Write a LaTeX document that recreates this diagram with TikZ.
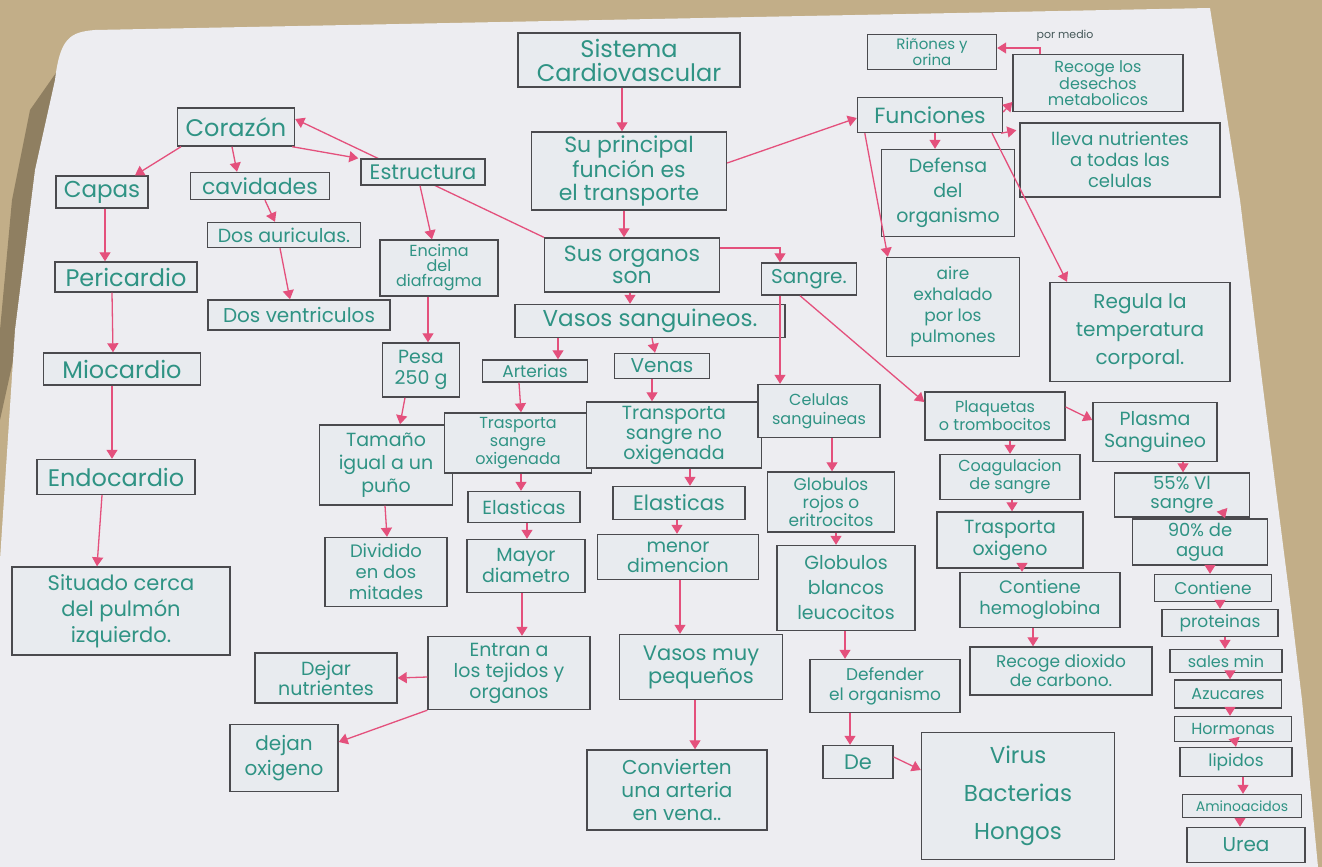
\documentclass[tikz,border=0pt]{standalone}
\usepackage{fontspec}
\setmainfont{Poppins}
\usetikzlibrary{arrows.meta}
\definecolor{sand}{HTML}{C2AE88}
\definecolor{sanddark}{HTML}{6E6048}
\definecolor{paper}{HTML}{EDEDF1}
\definecolor{boxfill}{HTML}{E8EBEF}
\definecolor{boxline}{HTML}{4A4A4E}
\definecolor{ink}{HTML}{2F9384}
\definecolor{arrowc}{HTML}{E4507C}
\newcommand\fsz[2]{\fontsize{#1}{#2}\selectfont}
\pgfdeclarelayer{bgpaper}
\pgfdeclarelayer{under}
\pgfsetlayers{bgpaper,under,main}
\tikzset{
  cbox/.style={draw=boxline, line width=1.4pt, fill=boxfill, text=ink, align=center, inner sep=1.5pt},
  link/.style={draw=arrowc, line width=1.3pt, -{Triangle[width=11pt,length=9pt]}},
}
\begin{document}
\begin{tikzpicture}[x=1pt,y=-1pt]
\useasboundingbox (0,0) rectangle (1322,867);
\begin{pgfonlayer}{bgpaper}
  \fill[sand] (0,0) rectangle (1322,867);
  \fill[sanddark,opacity=0.6] (58,70) -- (40,150) -- (22,320) -- (0,420) -- (0,330) -- (12,200) -- (30,110) -- cycle;
  \fill[paper] (55,80) .. controls (60,38) and (70,32) .. (95,30) -- (1210,8) -- (1240,200) -- (1262,380) -- (1290,600) -- (1302,700) -- (1318,867) -- (0,867) -- (0,560) -- (15,330) -- (35,170) -- cycle;
\end{pgfonlayer}

% ---------- nodes ----------
\node[cbox, minimum width=222, minimum height=54, font=\fsz{24}{24}] (sc) at (629,60) {Sistema\\Cardiovascular};
\node[cbox, minimum width=195, minimum height=78, font=\fsz{22}{23}] (sup) at (629,171) {Su principal\\función es\\el transporte};
\node[cbox, minimum width=175, minimum height=54, font=\fsz{22}{22}] (org) at (632,265) {Sus organos\\son};
\node[cbox, minimum width=270, minimum height=33, inner sep=1pt, font=\fsz{23}{23}] (vas) at (650,321) {Vasos sanguineos.};

\node[cbox, minimum width=117, minimum height=38, font=\fsz{24}{24}] (cor) at (236,127) {Corazón};
\node[cbox, minimum width=92, minimum height=32, font=\fsz{23}{23}] (cap) at (102,192) {Capas};
\node[cbox, minimum width=139, minimum height=27, inner sep=1pt, font=\fsz{22}{22}] (cav) at (260,186) {cavidades};
\node[cbox, minimum width=124, minimum height=26, inner sep=1pt, font=\fsz{21}{21}] (est) at (423,172) {Estructura};
\node[cbox, minimum width=153, minimum height=25, inner sep=1pt, font=\fsz{19}{19}] (aur) at (284,235) {Dos auriculas.};
\node[cbox, minimum width=182, minimum height=30, font=\fsz{20}{20}] (ven) at (299,315) {Dos ventriculos};
\node[cbox, minimum width=118, minimum height=56, font=\fsz{16}{15}] (enc) at (439,268) {Encima\\del\\diafragma};
\node[cbox, minimum width=142, minimum height=30, inner sep=1pt, font=\fsz{24}{24}] (per) at (126,277) {Pericardio};
\node[cbox, minimum width=157, minimum height=32, inner sep=1pt, font=\fsz{24}{24}] (mio) at (122,369) {Miocardio};
\node[cbox, minimum width=158, minimum height=35, inner sep=1pt, font=\fsz{24}{24}] (endo) at (116,477) {Endocardio};
\node[cbox, minimum width=218, minimum height=88, font=\fsz{21}{26}] (sit) at (121,611) {Situado cerca\\del pulmón\\izquierdo.};
\node[cbox, minimum width=77, minimum height=54, font=\fsz{19}{21}] (pesa) at (421,370) {Pesa\\250 g};
\node[cbox, minimum width=133, minimum height=80, font=\fsz{19}{23}] (tam) at (386,465) {Tamaño\\igual a un\\puño};
\node[cbox, minimum width=122, minimum height=69, font=\fsz{18}{21}] (div) at (386,572) {Dividido\\en dos\\mitades};

\node[cbox, minimum width=105, minimum height=22, inner sep=1pt, font=\fsz{17}{17}] (art) at (535,371) {Arterias};
\node[cbox, minimum width=95, minimum height=25, inner sep=1pt, font=\fsz{20}{20}] (vena) at (662,366) {Venas};
\node[cbox, minimum width=147, minimum height=60, font=\fsz{16}{18}] (tra) at (518,443) {Trasporta\\sangre\\oxigenada};
\node[cbox, minimum width=175, minimum height=66, font=\fsz{19}{20}] (tno) at (674,435) {Transporta\\sangre no\\oxigenada};
\node[cbox, minimum width=112, minimum height=31, font=\fsz{19}{19}] (ela1) at (524,507) {Elasticas};
\node[cbox, minimum width=132, minimum height=33, font=\fsz{21}{21}] (ela2) at (679,503) {Elasticas};
\node[cbox, minimum width=118, minimum height=53, font=\fsz{19}{21}] (may) at (526,566) {Mayor\\diametro};
\node[cbox, minimum width=161, minimum height=45, font=\fsz{19}{20}] (men) at (678,557) {menor\\dimencion};
\node[cbox, minimum width=162, minimum height=73, font=\fsz{19}{21}] (ent) at (509,673) {Entran a\\los tejidos y\\organos};
\node[cbox, minimum width=163, minimum height=65, font=\fsz{21}{23}] (vmp) at (701,667) {Vasos muy\\pequeños};
\node[cbox, minimum width=180, minimum height=80, font=\fsz{20}{23}] (conv) at (677,790) {Convierten\\una arteria\\en vena..};
\node[cbox, minimum width=142, minimum height=50, font=\fsz{19}{20}] (dnu) at (326,678) {Dejar\\nutrientes};
\node[cbox, minimum width=108, minimum height=67, font=\fsz{20}{25}] (dox) at (284,758) {dejan\\oxigeno};

\node[cbox, minimum width=95, minimum height=32, font=\fsz{20}{20}] (san) at (809,279) {Sangre.};
\node[cbox, minimum width=122, minimum height=53, font=\fsz{16}{19}] (cel) at (819,411) {Celulas\\sanguineas};
\node[cbox, minimum width=127, minimum height=60, font=\fsz{17}{18}] (gro) at (831,502) {Globulos\\rojos o\\eritrocitos};
\node[cbox, minimum width=138, minimum height=85, font=\fsz{19}{25}] (gbl) at (846,588) {Globulos\\blancos\\leucocitos};
\node[cbox, minimum width=150, minimum height=53, font=\fsz{17}{20}] (def) at (885,686) {Defender\\el organismo};
\node[cbox, minimum width=70, minimum height=33, font=\fsz{21}{21}] (de) at (858,762) {De};
\node[cbox, minimum width=193, minimum height=127, font=\fsz{23}{38}] (vir) at (1018,796) {Virus\\Bacterias\\Hongos};

\node[cbox, minimum width=140, minimum height=48, font=\fsz{16}{18}] (pla) at (995,416) {Plaquetas\\o trombocitos};
\node[cbox, minimum width=124, minimum height=59, font=\fsz{19}{22}] (plas) at (1155,432) {Plasma\\Sanguineo};
\node[cbox, minimum width=140, minimum height=45, font=\fsz{16}{18}] (coa) at (1010,477) {Coagulacion\\de sangre};
\node[cbox, minimum width=135, minimum height=44, font=\fsz{18}{19}] (p55) at (1182,495) {55\% Vl\\sangre};
\node[cbox, minimum width=146, minimum height=56, font=\fsz{19}{22}] (tox) at (1010,540) {Trasporta\\oxigeno};
\node[cbox, minimum width=135, minimum height=46, font=\fsz{18}{20}] (p90) at (1200,542) {90\% de\\agua};
\node[cbox, minimum width=160, minimum height=55, font=\fsz{18}{21}] (hem) at (1040,600) {Contiene\\hemoglobina};
\node[cbox, minimum width=117, minimum height=27, inner sep=1pt, font=\fsz{17}{17}] (con) at (1213,588) {Contiene};
\node[cbox, minimum width=116, minimum height=27, inner sep=1pt, font=\fsz{17}{17}] (prot) at (1220,623) {proteinas};
\node[cbox, minimum width=182, minimum height=48, font=\fsz{17}{19}] (dio) at (1061,671) {Recoge dioxido\\de carbono.};
\node[cbox, minimum width=112, minimum height=23, inner sep=1pt, font=\fsz{16}{16}] (sal) at (1226,661) {sales min};
\node[cbox, minimum width=107, minimum height=28, inner sep=1pt, font=\fsz{16}{16}] (azu) at (1228,694) {Azucares};
\node[cbox, minimum width=117, minimum height=25, inner sep=1pt, font=\fsz{16}{16}] (hor) at (1233,729) {Hormonas};
\node[cbox, minimum width=112, minimum height=29, inner sep=1pt, font=\fsz{17}{17}] (lip) at (1236,762) {lipidos};
\node[cbox, minimum width=119, minimum height=23, inner sep=1pt, font=\fsz{14}{14}] (ami) at (1242,806) {Aminoacidos};
\node[cbox, minimum width=118, minimum height=35, font=\fsz{20}{20}] (urea) at (1246,845) {Urea};

\node[cbox, minimum width=145, minimum height=35, font=\fsz{22}{22}] (fun) at (930,115) {Funciones};
\node[cbox, minimum width=129, minimum height=35, font=\fsz{15}{14}] (rin) at (932,52) {Riñones y\\orina};
\node[cbox, minimum width=170, minimum height=57, font=\fsz{16}{16}] (rec) at (1098,83) {Recoge los\\desechos\\metabolicos};
\node[cbox, minimum width=200, minimum height=74, font=\fsz{18}{21}] (lle) at (1120,160) {lleva nutrientes\\a todas las\\celulas};
\node[cbox, minimum width=133, minimum height=87, font=\fsz{19}{25}] (dfo) at (948,193) {Defensa\\del\\organismo};
\node[cbox, minimum width=133, minimum height=99, font=\fsz{17}{21}] (air) at (953,307) {aire\\exhalado\\por los\\pulmones};
\node[cbox, minimum width=180, minimum height=99, font=\fsz{20}{28}] (reg) at (1140,332) {Regula la\\temperatura\\corporal.};
\node[text=boxline!80!ink, font=\fsz{11}{11}, inner sep=0pt] (pm) at (1065,36) {por medio};

% ---------- connectors ----------
\begin{pgfonlayer}{under}
  \draw[link] (org.north west) -- ([yshift=8]cor.east);
\end{pgfonlayer}
\draw[link] ([xshift=-55]cor.south) -- ([xshift=33]cap.north);
\draw[link] ([xshift=-4]cor.south) -- ([xshift=-23]cav.north);
\draw[link] ([xshift=-3]cor.south east) -- ([xshift=-2]est.north west);
\draw[link] ([xshift=5]cav.south) -- ([xshift=-9]aur.north);
\draw[link] ([xshift=-4]aur.south) -- ([xshift=-9]ven.north);
\draw[link] ([xshift=-3]est.south) -- ([xshift=-7]enc.north);
\draw[link] ([xshift=3]cap.south) -- ([xshift=-21]per.north);
\draw[link] ([xshift=-14]per.south) -- ([xshift=-9]mio.north);
\draw[link] ([xshift=-10]mio.south) -- ([xshift=-4]endo.north);
\draw[link] ([xshift=-14]endo.south) -- ([xshift=-24]sit.north);
\draw[link] ([xshift=-11]enc.south) -- ([xshift=7]pesa.north);
\draw[link] ([xshift=-16]pesa.south) -- ([xshift=14]tam.north);
\draw[link] ([xshift=-1]tam.south) -- ([xshift=1]div.north);

\draw[link] ([xshift=-7]sc.south) -- ([xshift=-7]sup.north);
\draw[link] ([xshift=-5]sup.south) -- ([xshift=-8]org.north);
\draw[link] ([yshift=8]sup.east) -- ([yshift=-3]fun.west);
\draw[link] ([xshift=-2]org.south) -- ([xshift=-20]vas.north);
\draw[link] ([yshift=17]org.east) -| ([xshift=-29]san.north);
\draw[link] ([xshift=-92]vas.south) -- ([xshift=23]art.north);
\draw[link] ([xshift=2]vas.south) -- ([xshift=-7]vena.north);
\draw[link] ([xshift=-16]art.south) -- ([xshift=3]tra.north);
\draw[link] ([xshift=-10]vena.south) -- ([xshift=-22]tno.north);
\draw[link] ([xshift=3]tra.south) -- ([xshift=-3]ela1.north);
\draw[link] ([xshift=16]tno.south) -- ([xshift=11]ela2.north);
\draw[link] ([xshift=3]ela1.south) -- ([xshift=1]may.north);
\draw[link] ([xshift=-2]ela2.south) -- ([xshift=-1]men.north);
\draw[link] ([xshift=-4]may.south) -- ([xshift=13]ent.north);
\draw[link] ([xshift=2]men.south) -- ([xshift=-21]vmp.north);
\draw[link] ([yshift=-4]ent.west) -- (dnu.east);
\draw[link] (ent.south west) -- ([yshift=16]dox.east);
\draw[link] ([xshift=-6]vmp.south) -- ([xshift=18]conv.north);

\draw[link] ([xshift=-29]san.south) -- ([xshift=-39]cel.north);
\draw[link] ([xshift=-9]san.south) -- ([yshift=14]pla.west);
\draw[link] ([xshift=13]cel.south) -- ([xshift=1]gro.north);
\draw[link] ([xshift=5]gro.south) -- ([xshift=-10]gbl.north);
\draw[link] ([xshift=-1]gbl.south) -- ([xshift=-40]def.north);
\draw[link] ([xshift=-35]def.south) -- ([xshift=-8]de.north);
\draw[link] ([yshift=5]de.east) -- ([yshift=26]vir.west);

\draw[link] ([yshift=9]pla.east) -- ([yshift=12]plas.west);
\draw[link] ([xshift=15]pla.south) -- (coa.north);
\draw[link] ([xshift=2]coa.south) -- ([xshift=2]tox.north);
\draw[link] ([xshift=12]tox.south) -- ([xshift=-18]hem.north);
\draw[link] ([xshift=-7]hem.south) -- ([xshift=-28]dio.north);
\draw[link] ([xshift=28]plas.south) -- ([xshift=1]p55.north);
\draw[link] ([xshift=40,yshift=8]p55.south) -- ([xshift=25]p90.north);
\draw[link] ([xshift=10]p90.south) -- ([xshift=-3]con.north);
\draw[link] ([xshift=7]con.south) -- (prot.north);
\draw[link] ([xshift=5]prot.south) -- ([xshift=-1]sal.north);
\draw[link] ([xshift=4]sal.south) -- ([xshift=2]azu.north);
\draw[link] ([xshift=2]azu.south) -- ([xshift=-3]hor.north);
\draw[link] ([xshift=2]hor.south) -- (lip.north);
\draw[link] ([xshift=7]lip.south) -- ([xshift=1]ami.north);
\draw[link] ([xshift=-2]ami.south) -- ([xshift=-6]urea.north);

\draw[link] ([yshift=3]fun.east) -- ([yshift=-19]rec.west);
\draw[link] ([xshift=-2]fun.south east) -- ([xshift=-3,yshift=-8]lle.north west);
\draw[link] ([xshift=5]fun.south) -- ([xshift=-13]dfo.north);
\draw[link] ([xshift=8]fun.south west) -- ([xshift=2]air.north west);
\draw[link] ([xshift=62]fun.south) -- ([xshift=-73]reg.north);
\draw[link] ([xshift=-58]rec.north) |- ([yshift=4]rin.east);
\end{tikzpicture}
\end{document}
